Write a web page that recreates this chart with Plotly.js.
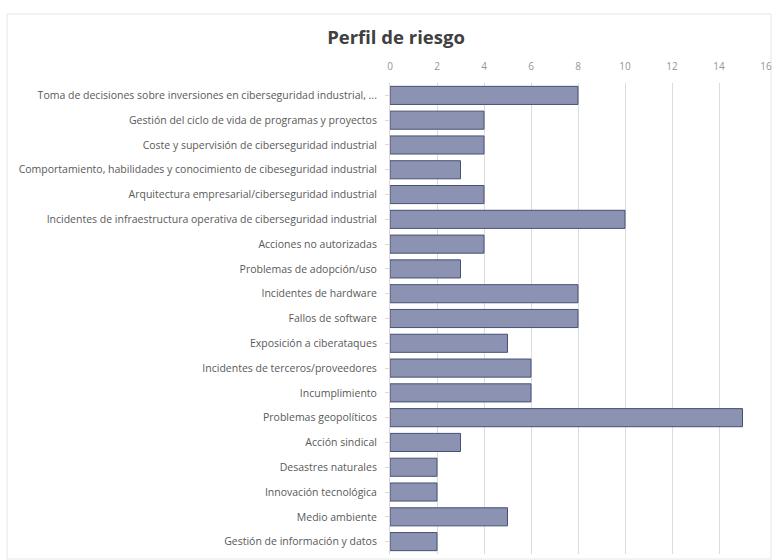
<!DOCTYPE html>
<html>
<head>
<meta charset="utf-8">
<script src="https://cdn.plot.ly/plotly-3.0.1.min.js"></script>
<style>
html,body{margin:0;padding:0;background:#fff;}
#chart{width:772px;height:560px;}
</style>
</head>
<body>
<div id="chart"></div>
<script>
const categories = [
  "Toma de decisiones sobre inversiones en ciberseguridad industrial, ...",
  "Gestión del ciclo de vida de programas y proyectos",
  "Coste y supervisión de ciberseguridad industrial",
  "Comportamiento, habilidades y conocimiento de cibeseguridad industrial",
  "Arquitectura empresarial/ciberseguridad industrial",
  "Incidentes de infraestructura operativa de ciberseguridad industrial",
  "Acciones no autorizadas",
  "Problemas de adopción/uso",
  "Incidentes de hardware",
  "Fallos de software",
  "Exposición a ciberataques",
  "Incidentes de terceros/proveedores",
  "Incumplimiento",
  "Problemas geopolíticos",
  "Acción sindical",
  "Desastres naturales",
  "Innovación tecnológica",
  "Medio ambiente",
  "Gestión de información y datos"
];
const values = [8, 4, 4, 3, 4, 10, 4, 3, 8, 8, 5, 6, 6, 15, 3, 2, 2, 5, 2];
const tickValues = [0, 2, 4, 6, 8, 10, 12, 14, 16];

const trace = {
  type: 'bar',
  orientation: 'h',
  y: categories,
  x: values,
  marker: {color: '#8c92b2', line: {color: '#465176', width: 1}},
  hoverinfo: 'x+y'
};

const layout = {
  width: 772, height: 560,
  margin: {l: 390, r: 6, t: 83, b: 6},
  paper_bgcolor: '#ffffff',
  plot_bgcolor: '#ffffff',
  bargap: 0.27,
  showlegend: false,
  title: {
    text: '<b>Perfil de riesgo</b>',
    x: 396/772, xanchor: 'center',
    y: 1 - 38/560, yanchor: 'middle',
    font: {family: 'Open Sans, sans-serif', size: 18.5, color: '#404040'}
  },
  xaxis: {
    side: 'top',
    range: [0, 16],
    tickvals: tickValues,
    ticktext: tickValues.map(String),
    showgrid: true,
    gridcolor: '#dcdcdc',
    gridwidth: 1,
    zeroline: false,
    showline: false,
    ticks: '',
    ticklabelstandoff: 10,
    tickfont: {family: 'Open Sans, sans-serif', size: 10, color: '#959595'},
    fixedrange: true
  },
  yaxis: {
    type: 'category',
    autorange: 'reversed',
    showgrid: false,
    zeroline: false,
    showline: true,
    linecolor: '#d9d9d9',
    ticks: 'outside',
    ticklen: 4,
    tickcolor: '#d9d9d9',
    ticklabelstandoff: 6,
    tickfont: {family: 'Open Sans, sans-serif', size: 10.5, color: '#595959'},
    fixedrange: true
  },
  shapes: [{
    type: 'rect', xref: 'paper', yref: 'paper',
    x0: -383/376, x1: 1 + 5/376,
    y0: -5/471, y1: 1 + 69/471,
    line: {color: '#e6e6e6', width: 1},
    fillcolor: 'rgba(0,0,0,0)',
    layer: 'below'
  }]
};

Plotly.newPlot('chart', [trace], layout, {displayModeBar: false, staticPlot: true});
</script>
</body>
</html>
